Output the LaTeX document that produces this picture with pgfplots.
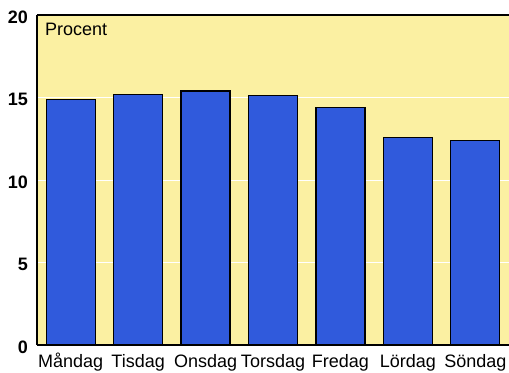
\documentclass[border=0pt]{standalone}
\usepackage{fontspec}
\setmainfont{Liberation Sans}
\usepackage{pgfplots}
\pgfplotsset{compat=1.18}
\definecolor{bgyellow}{RGB}{251,240,162}
\definecolor{barblue}{RGB}{48,90,220}
\begin{document}
\begin{tikzpicture}
\begin{axis}[
  scale only axis,
  width=472pt, height=330pt,
  xmin=-0.5, xmax=6.5, ymin=0, ymax=20,
  axis lines*=left,
  axis line style={line width=1.5pt, black},
  axis background/.style={fill=bgyellow},
  xtick=data,
  xticklabels={Måndag,Tisdag,Onsdag,Torsdag,Fredag,Lördag,Söndag},
  ytick={0,5,10,15,20},
  major tick length=0pt,
  ymajorgrids,
  grid style={white, line width=1pt},
  /pgf/number format/assume math mode=true,
  xticklabel style={font=\fontsize{18}{20}\selectfont, anchor=base, yshift=-22pt, inner sep=0pt},
  yticklabel style={font=\fontsize{18}{20}\selectfont\bfseries, anchor=east, inner sep=0pt, xshift=-9pt, yshift=-2pt},
  ybar, bar width=49pt,
  clip=false,
]
\addplot[fill=barblue, draw=black, line width=1.2pt] coordinates {
  (0,14.9) (1,15.2) (2,15.4) (3,15.1) (4,14.4) (5,12.6) (6,12.4)
};
\coordinate (bl) at (rel axis cs:0,0);
\coordinate (tr) at (rel axis cs:1,1);
\draw[line width=1.5pt, black] (rel axis cs:0,1) -- (rel axis cs:1,1);
\node[anchor=base west, inner sep=0pt, xshift=8pt, yshift=-20.7pt, font=\fontsize{18}{20}\selectfont] at (rel axis cs:0,1) {Procent};
\end{axis}
\pgfresetboundingbox
\useasboundingbox ([shift={(-37pt,-27pt)}]bl) rectangle ([shift={(0pt,15pt)}]tr);
\end{tikzpicture}
\end{document}
